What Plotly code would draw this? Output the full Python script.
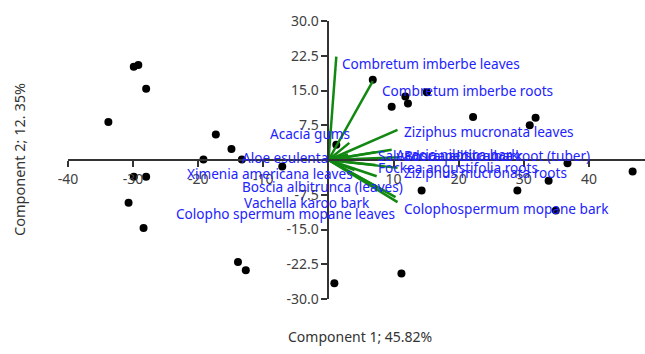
import plotly.graph_objects as go

# PCA scores (Component 1, Component 2)
score_x = [-29.9, -29.2, -28.0, -33.8, -17.3, -14.9, -19.2, -13.3, -7.1, -29.9,
           -28.0, -30.7, -28.4, -13.9, -12.7, 1.2, 0.9, 11.2, 6.8, 9.7,
           11.8, 12.2, 15.1, 22.2, 30.9, 31.8, 36.7, 46.7, 14.3, 29.0,
           33.8, 34.9]
score_y = [20.1, 20.5, 15.4, 8.2, 5.5, 2.4, 0.1, 0.1, -1.4, -3.6,
           -3.6, -9.2, -14.7, -22.0, -23.8, 3.3, -26.6, -24.5, 17.3, 11.5,
           13.7, 12.2, 14.6, 9.3, 7.5, 9.1, -0.7, -2.5, -6.6, -6.6,
           -4.5, -10.9]

# Variable loadings (scaled for the biplot)
var_names = [
    "Combretum imberbe leaves", "Combretum imberbe roots", "Ziziphus mucronata leaves",
    "Acacia gums", "Aloe esulenta", "Ximenia americana leaves",
    "Boscia albitrunca (leaves)", "Vachella karoo bark", "Colopho spermum mopane leaves",
    "Colophospermum mopane bark", "Salvadora persica bark", "Acacia nilotica bark",
    "Boscia albitrunca root (tuber)", "Fockea angustifolia roots", "Ziziphus mucronata roots",
]
load_x = [1.2, 6.8, 10.6, 3.2, 3.0, 4.0, 7.4, 8.9, 10.3, 10.6, 7.2, 9.7, 10.9, 7.2, 10.6]
load_y = [22.3, 17.0, 6.5, 3.7, 1.2, -2.2, -3.5, -6.9, -8.0, -9.1, 1.7, 2.2, 0.6, -1.1, -1.7]

# Label placement relative to each vector tip: (anchor, dx px, dy px)
label_place = [
    ("left", 4, -7), ("left", 7, -9), ("left", 4, -2),
    ("right", 3, 9), ("right", -18, -3), ("right", 0, -3),
    ("right", 28, -10), ("right", -14, -11), ("right", 1, -16),
    ("left", 4, -6), ("left", 1, -3), ("left", 2, -5),
    ("left", 3, 2), ("left", 1, -2), ("left", 4, -5),
]

x_ticks = [-40, -30, -20, -10, 10, 20, 30, 40]
y_ticks = [-30, -22.5, -15, -7.5, 7.5, 15, 22.5, 30]
x_range = [-40, 48.6]
y_range = [-30, 30]

FONT = "Noto Sans"
AXIS_COLOR = "#333333"
GREEN = "#118811"
BLUE = "#2222ff"

fig = go.Figure()

fig.add_trace(go.Scatter(
    x=score_x, y=score_y, mode="markers",
    marker=dict(color="black", size=8),
    hoverinfo="x+y", showlegend=False,
))

for name, lx, ly in zip(var_names, load_x, load_y):
    fig.add_trace(go.Scatter(
        x=[0, lx], y=[0, ly], mode="lines",
        line=dict(color=GREEN, width=2.5),
        name=name, hoverinfo="name", showlegend=False,
    ))

for name, lx, ly, (anchor, dx, dy) in zip(var_names, load_x, load_y, label_place):
    fig.add_annotation(
        x=lx, y=ly, text=name, showarrow=False,
        xanchor=anchor, yanchor="middle", xshift=dx, yshift=dy,
        font=dict(family=FONT, size=13.6, color=BLUE),
    )

# Axis titles sit at the figure edges, away from the centred axes
fig.add_annotation(
    x=0.506, y=0, xref="paper", yref="paper", text="Component 1; 45.82%",
    showarrow=False, xanchor="center", yanchor="middle", yshift=-37,
    font=dict(family=FONT, size=14, color="#333333"),
)
fig.add_annotation(
    x=0, y=0.5, xref="paper", yref="paper", text="Component 2; 12. 35%",
    showarrow=False, textangle=-90, xanchor="center", yanchor="middle",
    xshift=-49, yshift=0,
    font=dict(family=FONT, size=14.5, color="#333333"),
)

fig.update_layout(
    width=645, height=354,
    margin=dict(l=68, r=0, t=21, b=55),
    paper_bgcolor="white", plot_bgcolor="white",
    xaxis=dict(
        range=x_range, anchor="free", position=(0 - y_range[0]) / (y_range[1] - y_range[0]),
        showgrid=False, zeroline=False, showline=True, linecolor=AXIS_COLOR, linewidth=2,
        ticks="outside", ticklen=6, tickwidth=1.5, tickcolor=AXIS_COLOR,
        tickvals=x_ticks, ticktext=[str(v) for v in x_ticks],
        tickfont=dict(family=FONT, size=14, color="#404040"),
    ),
    yaxis=dict(
        range=y_range, anchor="free", position=(0 - x_range[0]) / (x_range[1] - x_range[0]),
        showgrid=False, zeroline=False, showline=True, linecolor=AXIS_COLOR, linewidth=2,
        ticks="outside", ticklen=6, tickwidth=1.5, tickcolor=AXIS_COLOR,
        tickvals=y_ticks, ticktext=[f"{v:.1f}" for v in y_ticks],
        tickfont=dict(family=FONT, size=14, color="#404040"),
    ),
)

fig.write_html("out.html")
